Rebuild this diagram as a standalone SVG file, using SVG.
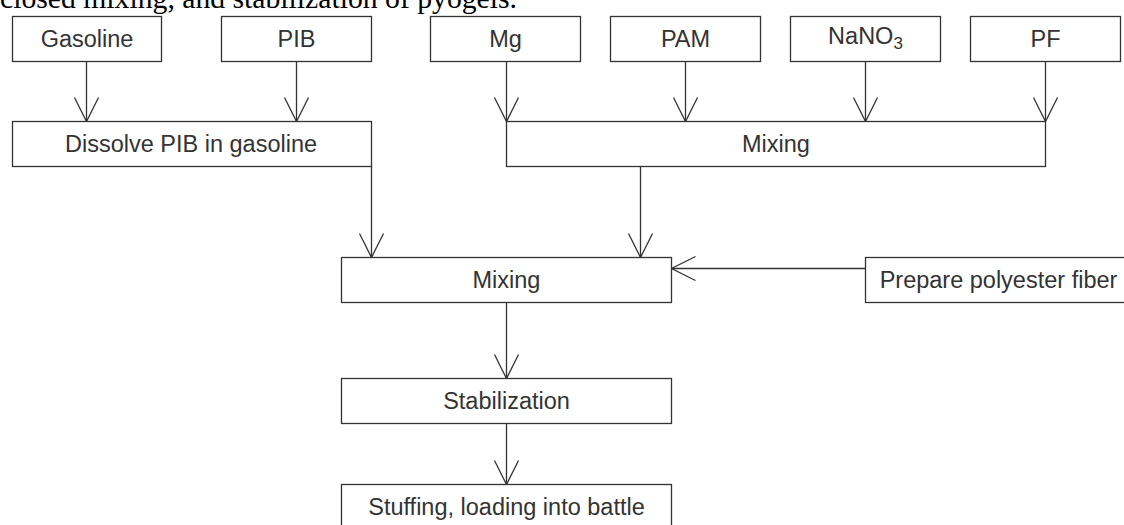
<svg xmlns="http://www.w3.org/2000/svg" width="1124" height="525" viewBox="0 0 1124 525">
<style>
.box{fill:#fff;stroke:#333;stroke-width:1.3}
.lbl{font-family:"Liberation Sans",Arial,sans-serif;font-size:23.5px;fill:#333;text-anchor:middle}
.con{fill:none;stroke:#333;stroke-width:1.3}
.cap{font-family:"Liberation Serif","Times New Roman",serif;font-size:29.7px;fill:#000}
</style>
<defs>
<marker id="arr" markerWidth="28" markerHeight="28" refX="26" refY="14" orient="auto" markerUnits="userSpaceOnUse" viewBox="0 0 28 28">
<path d="M2 2 L26 14 L2 26" fill="none" stroke="#333" stroke-width="1.3"/>
</marker>
</defs>
<rect width="1124" height="525" fill="#fff"/>
<text class="cap" x="0" y="8">closed mixing, and stabilization of pyogels.</text>
<g id="connectors">
<line class="con" x1="86.5" y1="61.5" x2="86.5" y2="121.5" marker-end="url(#arr)"/>
<line class="con" x1="296.5" y1="61.5" x2="296.5" y2="121.5" marker-end="url(#arr)"/>
<line class="con" x1="506.5" y1="61.5" x2="506.5" y2="121.5" marker-end="url(#arr)"/>
<line class="con" x1="685.5" y1="61.5" x2="685.5" y2="121.5" marker-end="url(#arr)"/>
<line class="con" x1="865.5" y1="61.5" x2="865.5" y2="121.5" marker-end="url(#arr)"/>
<line class="con" x1="1045.5" y1="61.5" x2="1045.5" y2="121.5" marker-end="url(#arr)"/>
<line class="con" x1="371.5" y1="166.5" x2="371.5" y2="257.5" marker-end="url(#arr)"/>
<line class="con" x1="640.5" y1="166.5" x2="640.5" y2="257.5" marker-end="url(#arr)"/>
<line class="con" x1="865.5" y1="268.5" x2="671.5" y2="268.5" marker-end="url(#arr)"/>
<line class="con" x1="506.5" y1="302.5" x2="506.5" y2="378.5" marker-end="url(#arr)"/>
<line class="con" x1="506.5" y1="423.5" x2="506.5" y2="484.5" marker-end="url(#arr)"/>
</g>
<g id="gasoline"><rect class="box" x="12.5" y="16.5" width="149" height="45"/><text class="lbl" x="87" y="47">Gasoline</text></g>
<g id="pib"><rect class="box" x="221.5" y="16.5" width="150" height="45"/><text class="lbl" x="296.5" y="47">PIB</text></g>
<g id="mg"><rect class="box" x="430.5" y="16.5" width="150" height="45"/><text class="lbl" x="505.5" y="47">Mg</text></g>
<g id="pam"><rect class="box" x="610.5" y="16.5" width="150" height="45"/><text class="lbl" x="685.5" y="47">PAM</text></g>
<g id="nano3"><rect class="box" x="790.5" y="16.5" width="150" height="45"/><text class="lbl" x="865.5" y="44">NaNO<tspan font-size="17" dy="5">3</tspan></text></g>
<g id="pf"><rect class="box" x="970.5" y="16.5" width="150" height="45"/><text class="lbl" x="1045.5" y="47">PF</text></g>
<g id="dissolve"><rect class="box" x="12.5" y="121.5" width="359" height="45"/><text class="lbl" x="191" y="152">Dissolve PIB in gasoline</text></g>
<g id="mixing1"><rect class="box" x="506.5" y="121.5" width="539" height="45"/><text class="lbl" x="776" y="152">Mixing</text></g>
<g id="mixing2"><rect class="box" x="341.5" y="257.5" width="330" height="45"/><text class="lbl" x="506.5" y="288">Mixing</text></g>
<g id="polyester"><rect class="box" x="865.5" y="257.5" width="270" height="45"/><text class="lbl" x="998.5" y="288">Prepare polyester fiber</text></g>
<g id="stabilization"><rect class="box" x="341.5" y="378.5" width="330" height="45"/><text class="lbl" x="506.5" y="409">Stabilization</text></g>
<g id="stuffing"><rect class="box" x="341.5" y="484.5" width="330" height="45"/><text class="lbl" x="506.5" y="515">Stuffing, loading into battle</text></g>
</svg>
